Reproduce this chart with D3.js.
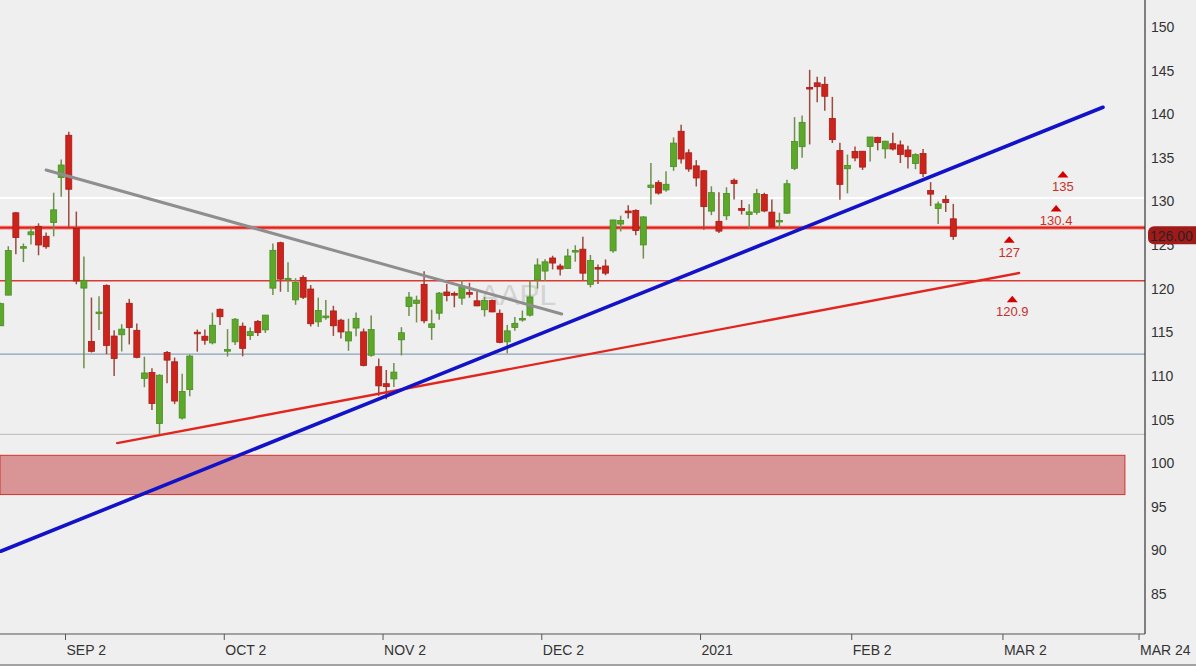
<!DOCTYPE html>
<html>
<head>
<meta charset="utf-8">
<script src="https://cdn.jsdelivr.net/npm/d3@7"></script>
<style>
  html, body { margin: 0; padding: 0; background: #efefef; }
  svg { display: block; font-family: "Liberation Sans", Arial, sans-serif; }
</style>
</head>
<body>
<div class="canvas"></div>
<script>
// daily candles, AAPL Aug 20 2020 -> Feb 22 2021
const dates = ["Aug 20","Aug 21","Aug 24","Aug 25","Aug 26","Aug 27","Aug 28","Aug 31","Sep 1","Sep 2",
  "Sep 3","Sep 4","Sep 8","Sep 9","Sep 10","Sep 11","Sep 14","Sep 15","Sep 16","Sep 17","Sep 18",
  "Sep 21","Sep 22","Sep 23","Sep 24","Sep 25","Sep 28","Sep 29","Sep 30","Oct 1","Oct 2",
  "Oct 5","Oct 6","Oct 7","Oct 8","Oct 9","Oct 12","Oct 13","Oct 14","Oct 15","Oct 16",
  "Oct 19","Oct 20","Oct 21","Oct 22","Oct 23","Oct 26","Oct 27","Oct 28","Oct 29","Oct 30",
  "Nov 2","Nov 3","Nov 4","Nov 5","Nov 6","Nov 9","Nov 10","Nov 11","Nov 12","Nov 13",
  "Nov 16","Nov 17","Nov 18","Nov 19","Nov 20","Nov 23","Nov 24","Nov 25","Nov 27","Nov 30",
  "Dec 1","Dec 2","Dec 3","Dec 4","Dec 7","Dec 8","Dec 9","Dec 10","Dec 11","Dec 14",
  "Dec 15","Dec 16","Dec 17","Dec 18","Dec 21","Dec 22","Dec 23","Dec 24","Dec 28","Dec 29",
  "Dec 30","Dec 31","Jan 4","Jan 5","Jan 6","Jan 7","Jan 8","Jan 11","Jan 12","Jan 13",
  "Jan 14","Jan 15","Jan 19","Jan 20","Jan 21","Jan 22","Jan 25","Jan 26","Jan 27","Jan 28",
  "Jan 29","Feb 1","Feb 2","Feb 3","Feb 4","Feb 5","Feb 8","Feb 9","Feb 10","Feb 11",
  "Feb 12","Feb 16","Feb 17","Feb 18","Feb 19","Feb 22"];

const open = [115.75,119.26,128.70,124.70,126.18,127.14,126.01,127.58,132.76,137.59,
  126.91,120.07,113.95,117.26,120.36,114.57,114.72,118.33,115.23,109.72,110.40,
  104.54,112.68,111.62,105.17,108.43,115.01,114.55,113.79,117.64,112.89,
  113.91,115.70,114.62,116.25,115.28,120.06,125.27,121.00,118.72,121.28,
  119.96,116.20,116.67,117.45,116.39,114.01,115.49,115.05,112.37,111.06,
  109.11,109.66,114.14,117.95,118.32,120.50,115.55,117.19,119.62,119.44,
  118.92,119.55,118.61,117.59,118.64,117.18,113.91,115.55,116.57,116.97,
  121.01,122.02,123.52,122.60,122.31,124.37,124.53,120.50,122.43,122.60,
  124.34,127.41,128.90,128.96,125.02,131.61,132.16,131.32,133.99,138.05,
  135.58,134.08,133.52,128.89,127.72,128.36,132.43,129.19,128.50,128.76,
  130.80,128.78,127.78,128.66,133.80,136.28,143.07,143.60,143.43,139.52,
  135.83,133.75,135.73,135.76,136.30,137.35,136.03,136.62,136.48,135.90,
  134.35,135.49,131.25,129.20,130.24,128.01];

const high = [118.39,124.87,128.79,125.18,126.99,127.49,126.44,131.00,134.80,137.98,
  128.84,123.70,118.99,119.14,120.50,115.23,115.93,118.83,116.00,112.20,110.88,
  110.19,112.86,112.11,110.25,112.44,115.32,115.31,117.26,117.72,115.37,
  116.65,116.12,115.55,116.40,117.00,125.18,125.39,123.03,121.20,121.55,
  120.42,118.98,118.71,118.04,116.55,116.55,117.28,115.43,116.93,111.99,
  110.68,111.49,115.59,119.62,119.20,121.99,117.59,119.63,120.53,119.67,
  120.99,120.67,119.82,119.06,118.77,117.62,115.85,116.75,117.49,120.97,
  123.47,123.37,123.78,122.86,124.57,124.98,125.95,123.87,122.76,123.35,
  127.90,128.37,129.58,129.10,128.31,134.41,132.43,133.46,137.34,138.79,
  135.99,134.74,133.61,131.74,131.05,131.63,132.63,130.17,129.69,131.45,
  131.00,130.22,128.71,132.49,139.67,139.85,145.09,144.30,144.30,141.99,
  136.74,135.38,136.31,135.77,137.40,137.42,136.96,137.88,136.99,136.39,
  135.53,136.01,132.22,129.99,130.71,129.72];

const low = [115.73,119.25,123.94,123.05,125.08,123.83,124.58,126.00,130.53,127.00,
  120.50,110.89,112.68,115.26,112.50,110.00,112.80,113.61,112.04,108.71,106.09,
  103.10,109.16,106.77,105.00,107.67,112.78,113.57,113.62,115.83,112.22,
  113.55,112.25,114.13,114.59,114.92,119.28,119.65,119.62,118.15,118.81,
  115.66,115.63,116.45,114.59,114.28,112.88,114.54,111.10,112.20,107.72,
  107.32,108.73,112.35,116.87,116.13,116.05,114.13,116.44,118.57,117.87,
  118.15,118.96,118.00,116.81,117.29,113.75,112.59,115.17,116.22,116.81,
  120.01,120.89,122.21,121.52,122.25,123.09,121.00,120.15,120.55,121.54,
  124.13,126.56,128.04,126.12,123.45,129.65,130.78,131.10,133.51,134.34,
  133.40,131.72,126.76,128.43,126.38,127.86,130.23,128.50,126.86,128.49,
  128.76,127.00,126.94,128.55,133.59,135.02,136.54,141.37,140.41,136.70,
  130.21,130.93,134.61,133.61,134.59,135.86,134.92,135.85,134.40,133.77,
  133.69,132.79,129.47,127.41,128.80,125.60];

const close = [118.28,124.37,125.86,124.82,126.52,125.01,124.81,129.04,134.18,131.40,
  120.88,120.96,112.82,117.32,113.49,112.00,115.36,115.54,112.13,110.34,106.84,
  110.08,111.81,107.12,108.22,112.28,114.96,114.09,115.81,116.79,113.02,
  116.50,113.16,115.08,114.97,116.97,124.40,121.10,121.19,120.71,119.02,
  115.98,117.51,116.87,115.75,115.04,115.05,116.60,111.20,115.32,108.86,
  108.77,110.44,114.95,119.03,118.69,116.32,115.97,119.49,119.21,119.26,
  120.30,119.39,118.03,118.64,117.34,113.85,115.17,116.03,116.59,119.05,
  122.72,123.08,122.94,122.25,123.75,124.38,121.78,123.24,122.41,121.78,
  127.88,127.81,128.70,126.66,128.23,131.88,130.96,131.97,136.69,134.87,
  133.72,132.69,129.41,131.01,126.60,130.92,132.05,128.98,128.80,130.89,
  128.91,127.14,127.83,132.03,136.87,139.07,142.92,143.16,142.06,137.09,
  131.96,134.14,134.99,133.94,137.39,136.76,136.91,136.01,135.39,135.13,
  135.37,133.19,130.84,129.71,129.87,126.00];

// x axis: trading-day slots (Aug 20 = 0), future slots continue to the right
const tickLabels = ["SEP 2","OCT 2","NOV 2","DEC 2","2021","FEB 2","MAR 2","MAR 24"];
const tickSlots = [9, 30, 51, 72, 93, 113, 133, 151];
const yTicks = [85, 90, 95, 100, 105, 110, 115, 120, 125, 130, 135, 140, 145, 150];

// drawn levels
const resistanceLevel = 127.0;
const supportLevel = 120.9;
const blueGrayLevel = 112.5;
const grayLevel = 103.3;
const whiteLevel = 130.4;
const zoneTop = 100.9, zoneBottom = 96.4;

// trend lines [slot, value]
const blueTrend = [[0, 89.9], [145.8, 140.8]];
const redTrend = [[15.4, 102.3], [134.7, 121.8]];
const grayTrend = [[6.0, 133.6], [74.2, 117.1]];

// target markers
const targetLabels = ["135", "130.4", "127", "120.9"];
const targetSlots = [140.5, 139.6, 133.4, 133.8];
const targetMarks = [133.1, 129.2, 125.6, 118.8];

const lastPrice = "126.00";

const W = 1196, H = 666;
const plotRight = 1145, plotBottom = 634;

const svg = d3.select(".canvas").append("svg")
  .attr("width", W)
  .attr("height", H);

svg.append("rect").attr("width", W).attr("height", H).attr("fill", "#efefef");

const x = d3.scaleLinear().domain([0, 151]).range([0.74, 1142.3]);
const y = d3.scaleLinear().domain([85, 150]).range([594, 27]);

svg.append("clipPath").attr("id", "plot")
  .append("rect").attr("x", 0).attr("y", 0).attr("width", plotRight).attr("height", plotBottom);

const plot = svg.append("g").attr("clip-path", "url(#plot)");

// watermark
plot.append("text")
  .attr("x", x(68.4)).attr("y", y(118.1))
  .attr("text-anchor", "middle")
  .attr("fill", "#d3d3d3")
  .style("font-size", "30px")
  .text("AAPL");

// zone
plot.append("rect")
  .attr("x", 0).attr("width", x(148.7))
  .attr("y", y(zoneTop)).attr("height", y(zoneBottom) - y(zoneTop))
  .attr("fill", "#d99595")
  .attr("stroke", "#d2322d").attr("stroke-width", 1);

// horizontal levels
const hline = (v, color, w) => plot.append("line")
  .attr("x1", 0).attr("x2", plotRight)
  .attr("y1", y(v)).attr("y2", y(v))
  .attr("stroke", color).attr("stroke-width", w);

hline(whiteLevel, "#ffffff", 2);
hline(grayLevel, "#c4c4c4", 1.2);
hline(blueGrayLevel, "#8ea2b8", 1.2);
hline(supportLevel, "#d93a33", 1.5);
hline(resistanceLevel, "#f4b0aa", 4.5);
hline(resistanceLevel, "#e0201b", 2.2);

// candles
const candles = dates.map((d, i) => ({ d, i, o: open[i], h: high[i], l: low[i], c: close[i] }));

const cg = plot.selectAll("g.candle")
  .data(candles)
  .enter().append("g")
  .attr("class", "candle")
  .attr("transform", d => `translate(${x(d.i)},0)`);

cg.append("line")
  .attr("y1", d => y(d.h)).attr("y2", d => y(d.l))
  .attr("stroke", d => d.c >= d.o ? "#6f8f4c" : "#9b4a3f")
  .attr("stroke-width", 1.5);

cg.append("rect")
  .attr("x", -3).attr("width", 6)
  .attr("y", d => y(Math.max(d.o, d.c)))
  .attr("height", d => Math.max(1.6, Math.abs(y(d.o) - y(d.c))))
  .attr("fill", d => d.c >= d.o ? "#5ca82b" : "#cc241c")
  .attr("stroke", d => d.c >= d.o ? "#4b8d22" : "#a81b15")
  .attr("stroke-width", 0.8);

// trend lines
const trend = (pts, color, w) => plot.append("line")
  .attr("x1", x(pts[0][0])).attr("y1", y(pts[0][1]))
  .attr("x2", x(pts[1][0])).attr("y2", y(pts[1][1]))
  .attr("stroke", color).attr("stroke-width", w)
  .attr("stroke-linecap", "round");

trend(grayTrend, "#8e8e8e", 3);
trend(redTrend, "#e2261f", 2.4);
trend(blueTrend, "#1212c8", 3.6);

// target markers
targetLabels.forEach((t, k) => {
  const cx = x(targetSlots[k]), cy = y(targetMarks[k]);
  plot.append("path")
    .attr("d", `M${cx - 5.5},${cy + 3} L${cx},${cy - 3.5} L${cx + 5.5},${cy + 3} Z`)
    .attr("fill", "#d40000");
  plot.append("text")
    .attr("x", cx).attr("y", cy + 17)
    .attr("text-anchor", "middle")
    .attr("fill", "#c9302c")
    .style("font-size", "13px")
    .text(t);
});

// y axis on the right
const yAxis = svg.append("g")
  .attr("transform", `translate(${plotRight},0)`)
  .call(d3.axisRight(y).tickValues(yTicks).tickSize(0).tickPadding(6));
yAxis.select(".domain").remove();
yAxis.selectAll("text")
  .attr("fill", "#333")
  .style("font-size", "14px")
  .style("font-family", "Liberation Sans, Arial, sans-serif");

// last price tag
const tagY = y(+lastPrice);
svg.append("rect")
  .attr("x", plotRight + 3).attr("y", tagY - 10)
  .attr("width", 60).attr("height", 18).attr("rx", 6)
  .attr("fill", "#a01a19");
svg.append("text")
  .attr("x", plotRight + 5).attr("y", tagY + 5)
  .attr("fill", "#2a2222")
  .style("font-size", "14px")
  .text(lastPrice);

// x axis
const xAxis = svg.append("g")
  .attr("transform", `translate(0,${plotBottom})`)
  .call(d3.axisBottom(x)
    .tickValues(tickSlots.map(s => s - 0.5))
    .tickFormat((d, k) => tickLabels[k])
    .tickSize(6).tickPadding(5));
xAxis.select(".domain").remove();
xAxis.selectAll("line").attr("stroke", "#555");
xAxis.selectAll("text")
  .attr("text-anchor", "start")
  .attr("dx", 1)
  .attr("fill", "#333")
  .style("font-size", "14px")
  .style("font-family", "Liberation Sans, Arial, sans-serif");

// frame
svg.append("line")
  .attr("x1", plotRight).attr("x2", plotRight).attr("y1", 0).attr("y2", plotBottom)
  .attr("stroke", "#333").attr("stroke-width", 1.2);
svg.append("line")
  .attr("x1", 0).attr("x2", plotRight).attr("y1", plotBottom).attr("y2", plotBottom)
  .attr("stroke", "#555").attr("stroke-width", 1.2);
svg.append("line")
  .attr("x1", 0).attr("x2", W).attr("y1", H - 1).attr("y2", H - 1)
  .attr("stroke", "#888").attr("stroke-width", 1.5);
</script>
</body>
</html>
